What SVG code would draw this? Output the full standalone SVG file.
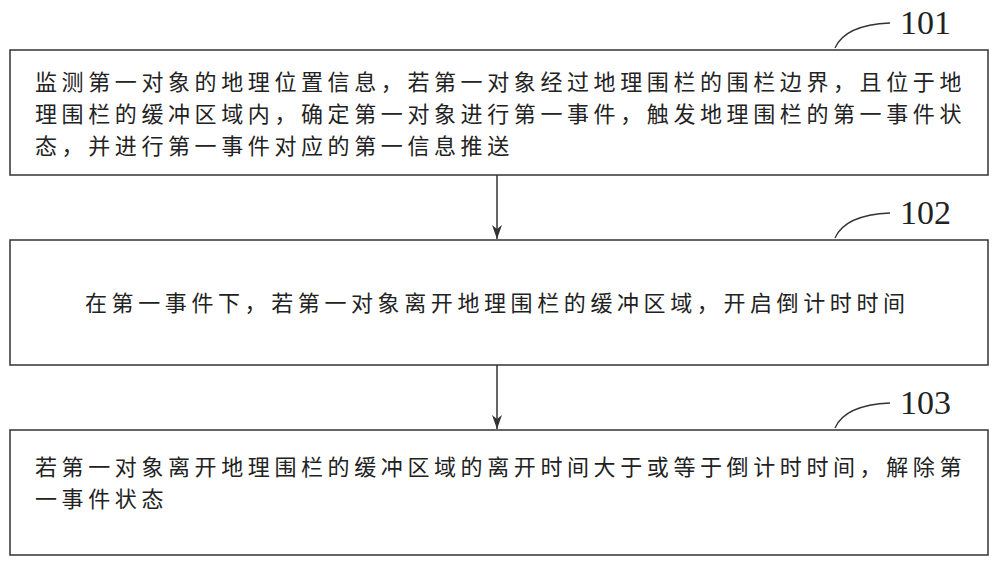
<svg xmlns="http://www.w3.org/2000/svg" width="1000" height="566" viewBox="0 0 1000 566">
<defs><marker id="ah" markerWidth="14" markerHeight="10" refX="14" refY="5" orient="auto" markerUnits="userSpaceOnUse" viewBox="0 0 14 10"><path d="M0,0 L14,5 L0,10 L4,5 Z" fill="#333"/></marker></defs>
<style>
.box{fill:#fff;stroke:#333;stroke-width:1.5}
.t{font-family:"Noto Sans CJK SC",sans-serif;font-size:22px;letter-spacing:4.6px;fill:#222}
.n{font-family:"Liberation Serif",serif;font-size:34px;fill:#222}
.c{fill:none;stroke:#333;stroke-width:1.3}
</style>
<rect width="1000" height="566" fill="#fff"/>
<g id="n101"><rect class="box" x="10" y="50" width="978" height="125"/>
<text class="t" x="35" y="90">监测第一对象的地理位置信息，若第一对象经过地理围栏的围栏边界，且位于地</text>
<text class="t" x="35" y="122">理围栏的缓冲区域内，确定第一对象进行第一事件，触发地理围栏的第一事件状</text>
<text class="t" x="35" y="154">态，并进行第一事件对应的第一信息推送</text>
<path class="c" d="M835,48 Q845,25 890,23"/><text class="n" x="900" y="34">101</text></g>
<g id="n102"><rect class="box" x="10" y="240" width="978" height="125"/>
<text class="t" x="85" y="311">在第一事件下，若第一对象离开地理围栏的缓冲区域，开启倒计时时间</text>
<path class="c" d="M835,238 Q845,215 890,213"/><text class="n" x="900" y="224">102</text></g>
<g id="n103"><rect class="box" x="10" y="430" width="978" height="125"/>
<text class="t" x="35" y="475">若第一对象离开地理围栏的缓冲区域的离开时间大于或等于倒计时时间，解除第</text>
<text class="t" x="35" y="507">一事件状态</text>
<path class="c" d="M835,428 Q845,405 890,403"/><text class="n" x="900" y="414">103</text></g>
<g id="connectors" stroke="#333" stroke-width="1.5">
<line x1="497" y1="175" x2="497" y2="239" marker-end="url(#ah)"/>
<line x1="497" y1="365" x2="497" y2="429" marker-end="url(#ah)"/>
</g>
</svg>
